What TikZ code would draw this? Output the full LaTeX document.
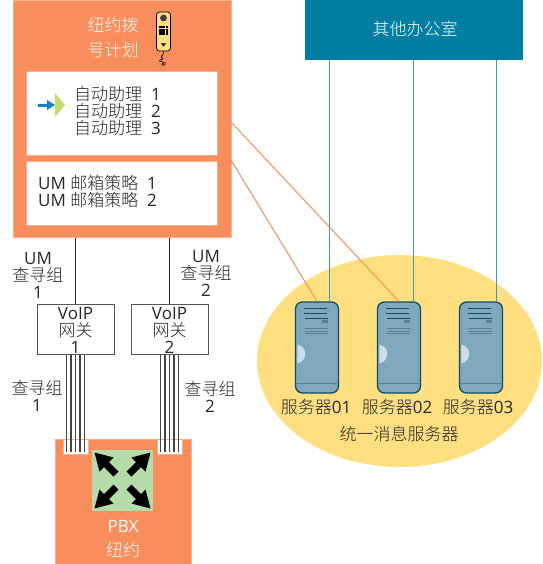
\documentclass[tikz,border=0pt]{standalone}
\usepackage{fontspec}
\setmainfont{Open Sans}
\newfontfamily\cjk{Noto Sans CJK SC Light}
\usetikzlibrary{positioning,calc,shapes.geometric}
\definecolor{coral}{HTML}{F78E5C}
\definecolor{coraledge}{HTML}{FBB08C}
\definecolor{ocean}{HTML}{007DA3}
\definecolor{oceanline}{HTML}{3F9CB8}
\definecolor{sand}{HTML}{FFDF80}
\definecolor{slate}{HTML}{7FA8BD}
\definecolor{slatedark}{HTML}{0F4C68}
\definecolor{pale}{HTML}{CFDEE6}
\definecolor{mint}{HTML}{B5DBAB}
\definecolor{lime}{HTML}{C3DC6B}
\definecolor{azure}{HTML}{1A82BD}
\definecolor{ink}{HTML}{262626}
\definecolor{wire}{HTML}{555555}
\tikzset{label16/.style={align=center,font=\fontsize{17}{17}\selectfont,text=ink,inner sep=0pt},
whitelabel/.style={label16,text=white},
panel/.style={draw=coraledge,fill=white,line width=0.6pt,anchor=north west,inner sep=0pt},
gatebox/.style={draw=wire,fill=white,line width=1pt,minimum width=77pt,minimum height=50pt,inner sep=0pt},
serverbox/.style={draw=slatedark,fill=slate,line width=1.3pt,rounded corners=7pt,minimum width=43pt,minimum height=91pt,inner sep=0pt},
notchbox/.style={draw=coraledge,fill=white,line width=0.6pt,minimum width=25pt,minimum height=15pt,inner sep=0pt},
trunk/.style={draw=wire!80!black,line width=1.2pt},
hubline/.style={draw=ink,line width=0.8pt},
office/.style={draw=oceanline,line width=1.2pt},
umlink/.style={draw=coral,line width=1pt}}
\begin{document}
\begin{tikzpicture}[x=1pt,y=-1pt]
\useasboundingbox (0,0) rectangle (542,564);
\node[draw=coraledge,fill=coral,line width=0.6pt,minimum width=218pt,minimum height=237pt,inner sep=0pt,anchor=north west] (plan) at (13,0) {};
\node[panel,minimum width=191pt,minimum height=84pt] (attendants) at (26,71) {};
\node[panel,minimum width=191pt,minimum height=64pt,below=5.5pt of attendants.south west,anchor=north west] (policies) {};
\node[whitelabel,font=\fontsize{17}{25}\selectfont] (plantitle) at (113,38) {\cjk 纽约拨\\\cjk 号计划};
\node[label16,align=left,anchor=west] (attendanttext) at (74,111.5) {{\cjk 自动助理}\ \ 1\\{\cjk 自动助理}\ \ 2\\{\cjk 自动助理}\ \ 3};
\node[label16,align=left,anchor=west] (policytext) at (38,191.5) {UM {\cjk 邮箱策略}\ \ 1\\UM {\cjk 邮箱策略}\ \ 2};
% phone icon
\node[draw=black,fill=sand,line width=0.7pt,rounded corners=3pt,minimum width=14pt,minimum height=39pt,inner sep=0pt] (phone) at (163.5,31.5) {};
\fill[black!75] (163.5,18) circle (3.4pt);
\foreach \kx in {-3.2,0,3.2} \foreach \ky in {-3.2,0,3.2} \fill[black] (163.5+\kx-1.2,30.5+\ky-1.2) rectangle ++(2.4,2.4);
\fill[black] (161,43.5) -- (166,43.5) -- (163.5,46.5) -- cycle;
\draw[black,line width=0.6pt] (phone.south) -- (163,55) .. controls (157,58) and (168,58) .. (160,60) .. controls (156,62) and (168,61) .. (162,64) .. controls (160,66) and (167,66) .. (165,62);
% arrow icon
\fill[lime] (55,93) -- (65,105) -- (55,117) -- cycle;
\fill[azure] (38,104) -- (47,104) -- (47,100) -- (55,105) -- (47,110) -- (47,107) -- (38,107) -- cycle;
\node[fill=ocean,minimum width=218pt,minimum height=60pt,inner sep=0pt,anchor=north west] (other) at (305,0) {};
\node[whitelabel] (othertext) at (415,29) {\cjk 其他办公室};
\node[ellipse,fill=sand,minimum width=285pt,minimum height=212pt,inner sep=0pt] (umpool) at (399.5,361) {};
\node[serverbox] (srvA) at (317,347.5) {};
\node[serverbox,right=37.7pt of srvA] (srvB) {};
\node[serverbox,right=37.7pt of srvB] (srvC) {};
\foreach \srv in {srvA,srvB,srvC}{
\begin{scope}[shift={(\srv.north west)}]
\draw[slatedark,line width=1pt] (9,7) -- (32,7) (9,12) -- (32,12);
\draw[slatedark,line width=0.5pt] (10,17) -- (33,17);
\fill[slatedark!70] (27,19) rectangle (33,21.5);
\draw[slatedark!70,line width=0.5pt] (10,27) -- (33,27) (10,29.5) -- (33,29.5) (10,32) -- (33,32);
\fill[pale] (2.5,43.5) .. controls (13,45) and (13,60) .. (2.5,62) -- cycle;
\draw[slatedark!70,line width=0.6pt] (1,82) -- (42,82);
\end{scope}}
\coordinate (officeA) at ($(srvA.north)+(12.5,0)$);
\coordinate (officeB) at ($(srvB.north)+(14.5,0)$);
\coordinate (officeC) at ($(srvC.north)+(15.5,0)$);
\draw[office] (officeA) -- (officeA |- other.south);
\draw[office] (officeB) -- (officeB |- other.south);
\draw[office] (officeC) -- (officeC |- other.south);
\coordinate (planportA) at (231,160);
\coordinate (planportB) at (231,122);
\draw[umlink] (planportA) -- (srvA.north);
\draw[umlink] (planportB) -- (srvB.north);
\node[label16] (srvtextA) at (316,407) {{\cjk 服务器}01};
\node[label16] (srvtextB) at (397,407) {{\cjk 服务器}02};
\node[label16] (srvtextC) at (478,407) {{\cjk 服务器}03};
\node[label16] (umtext) at (399,434) {\cjk 统一消息服务器};
\node[gatebox] (gateA) at (75.5,329) {};
\node[gatebox,right=16pt of gateA] (gateB) {};
\node[label16] (gatetextA) at (75.5,330) {VoIP\\\cjk 网关\\1};
\node[label16] (gatetextB) at (169.5,330) {VoIP\\\cjk 网关\\2};
\draw[hubline] (gateA.north) -- (gateA.north |- plan.south);
\draw[hubline] (gateB.north) -- (gateB.north |- plan.south);
\node[label16] (groupA) at (38,275) {UM\\\cjk 查寻组\\1};
\node[label16] (groupB) at (206,273.5) {UM\\\cjk 查寻组\\2};
\node[fill=coral,draw=coraledge,line width=0.6pt,minimum width=136pt,minimum height=125pt,inner sep=0pt,anchor=north west] (pbx) at (55,439) {};
\node[notchbox,anchor=north] (notchA) at (75.5,439) {};
\node[notchbox,anchor=north] (notchB) at (169.5,439) {};
\fill[white] (notchA.north west) rectangle ([yshift=1pt]notchA.north east);
\fill[white] (notchB.north west) rectangle ([yshift=1pt]notchB.north east);
\foreach \dx in {-9,-4.5,0,4.5,9}{
\draw[trunk] ([xshift=\dx pt]gateA.south) -- ([xshift=\dx pt,yshift=3pt]notchA.south);
\draw[trunk] ([xshift=\dx pt]gateB.south) -- ([xshift=\dx pt,yshift=3pt]notchB.south);}
\node[label16] (trunkA) at (37,396) {\cjk 查寻组\\1};
\node[label16] (trunkB) at (210,397) {\cjk 查寻组\\2};
\node[fill=mint,minimum size=61pt,inner sep=0pt] (hub) at (122.5,480.5) {};
\foreach \ang in {0,90,180,270}{
\fill[black,shift={(hub.center)},rotate=\ang] (-28,-28) -- (-9,-23) -- (-13.5,-18.5) -- (-4,-9) -- (-9,-4) -- (-18.5,-13.5) -- (-23,-9) -- cycle;}
\node[whitelabel] (pbxtext) at (123,526) {PBX};
\node[whitelabel] (citytext) at (123,550) {\cjk 纽约};
\end{tikzpicture}
\end{document}
